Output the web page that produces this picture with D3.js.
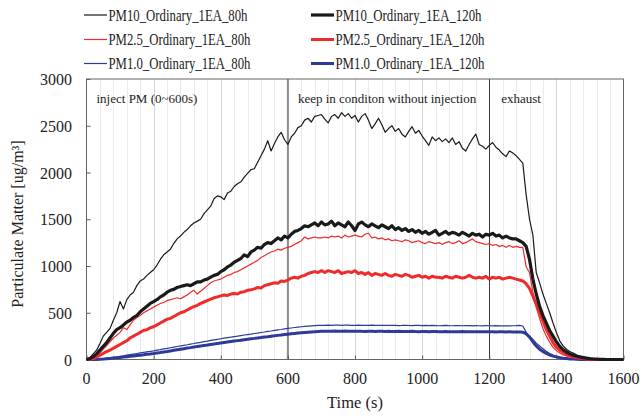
<!DOCTYPE html>
<html>
<head>
<meta charset="utf-8">
<script src="https://cdn.jsdelivr.net/npm/d3@7"></script>
<style>
  body { margin: 0; background: #fff; }
  svg text { font-family: "Liberation Serif", "Times New Roman", serif; fill: #222; }
</style>
</head>
<body>
<div id="chart"></div>
<script>
// sampling times (s)
const time = [
  0,10,20,30,40,50,60,70,80,90,100,110,120,130,140,150,160,170,180,190,
  200,210,220,230,240,250,260,270,280,290,300,310,320,330,340,350,360,370,380,390,
  400,410,420,430,440,450,460,470,480,490,500,510,520,530,540,550,560,570,580,590,
  600,610,620,630,640,650,660,670,680,690,700,710,720,730,740,750,760,770,780,790,
  800,810,820,830,840,850,860,870,880,890,900,910,920,930,940,950,960,970,980,990,
  1000,1010,1020,1030,1040,1050,1060,1070,1080,1090,1100,1110,1120,1130,1140,1150,1160,1170,1180,1190,
  1200,1210,1220,1230,1240,1250,1260,1270,1280,1290,1300,1310,1320,1330,1340,1350,1360,1370,1380,1390,
  1400,1410,1420,1430,1440,1450,1460,1470,1480,1490,1500,1510,1520,1530,1540,1550,1560,1570,1580,1590,
  1600
];

const pm10_80 = [
  0,20,60,100,170,250,290,330,420,500,
  620,540,640,690,720,790,840,860,900,930,
  960,1010,1070,1120,1150,1180,1240,1290,1320,1360,
  1390,1430,1460,1480,1500,1560,1600,1640,1720,1750,
  1740,1710,1780,1800,1850,1880,1900,1950,1990,2030,
  2040,2110,2180,2250,2340,2230,2310,2380,2430,2350,
  2300,2380,2420,2480,2500,2560,2580,2540,2600,2610,
  2620,2570,2530,2600,2620,2580,2640,2600,2630,2580,
  2610,2540,2600,2630,2560,2470,2520,2580,2510,2430,
  2470,2500,2440,2470,2410,2380,2440,2490,2420,2450,
  2390,2340,2290,2380,2340,2370,2330,2360,2320,2370,
  2300,2330,2260,2230,2300,2360,2410,2300,2280,2250,
  2290,2320,2270,2240,2200,2170,2230,2210,2180,2140,
  2100,1760,1500,1330,930,820,700,600,500,390,
  290,200,145,110,85,70,50,35,28,20,
  12,8,5,3,2,1,0,0,0,0,
  0
];

const pm10_120 = [
  0,10,30,60,100,140,180,230,280,320,
  340,370,400,420,450,470,510,540,570,600,
  620,640,670,690,720,740,750,770,780,790,
  800,790,810,830,830,850,860,880,900,910,
  940,960,990,1010,1040,1060,1080,1120,1100,1150,
  1170,1200,1190,1230,1250,1240,1270,1300,1280,1320,
  1300,1340,1370,1380,1400,1430,1420,1440,1460,1430,
  1470,1440,1450,1480,1430,1460,1440,1420,1470,1430,
  1380,1450,1470,1440,1420,1450,1430,1410,1440,1420,
  1400,1430,1390,1410,1380,1400,1370,1390,1360,1380,
  1350,1370,1340,1360,1380,1330,1350,1370,1340,1360,
  1350,1330,1360,1340,1320,1350,1330,1340,1310,1340,
  1330,1350,1320,1330,1300,1320,1300,1290,1290,1270,
  1250,1210,1070,860,700,570,470,390,310,250,
  190,140,105,80,60,45,35,28,20,14,
  9,6,4,2,1,0,0,0,0,0,
  0
];

const pm25_80 = [
  0,5,20,40,70,110,150,190,230,260,
  290,340,320,370,420,450,470,500,520,540,
  560,580,600,610,630,640,650,660,650,670,
  690,720,740,700,730,760,790,820,840,850,
  860,880,900,910,930,940,960,980,1000,1020,
  1040,1060,1090,1110,1130,1150,1160,1180,1170,1190,
  1200,1210,1230,1250,1270,1310,1290,1300,1310,1300,
  1300,1310,1300,1320,1310,1320,1300,1330,1310,1320,
  1330,1320,1310,1340,1350,1300,1310,1290,1300,1280,
  1290,1270,1280,1270,1260,1280,1270,1250,1260,1270,
  1250,1240,1260,1250,1240,1250,1230,1250,1260,1240,
  1250,1270,1240,1250,1270,1290,1260,1250,1240,1230,
  1240,1220,1230,1210,1220,1200,1220,1200,1210,1200,
  1200,990,930,720,560,440,330,250,185,130,
  95,70,50,38,28,20,14,10,6,3,
  1,0,0,0,0,0,0,0,0,0,
  0
];

const pm25_120 = [
  0,3,10,25,45,65,85,100,120,140,
  160,180,200,230,250,270,290,310,320,340,
  350,370,390,410,430,440,460,480,500,510,
  530,550,565,580,600,615,630,645,660,670,
  680,690,685,700,705,700,720,725,740,745,
  755,770,765,790,800,810,820,815,840,835,
  850,870,880,870,890,900,920,930,940,930,
  950,930,950,940,930,950,920,930,940,930,
  950,920,930,910,930,900,920,910,900,920,
  900,890,910,900,890,910,900,880,890,900,
  880,890,870,890,880,880,870,890,880,870,
  890,880,870,880,900,880,870,880,870,890,
  860,880,870,880,860,870,880,870,860,850,
  840,810,760,680,590,500,410,320,250,180,
  130,100,75,55,42,30,22,15,10,6,
  3,1,0,0,0,0,0,0,0,0,
  0
];

const pm1_80 = [
  0,0,1,3,6,10,14,19,24,29,
  35,40,46,52,58,64,70,76,82,87,
  93,100,106,113,119,126,132,139,145,152,
  158,165,171,178,184,191,197,204,210,216,
  222,228,234,239,245,250,256,262,267,272,
  278,283,289,294,300,305,311,316,321,327,
  332,337,342,346,350,354,357,360,362,364,
  365,366,367,366,368,367,366,368,367,365,
  366,368,365,364,366,367,365,366,364,365,
  366,364,365,363,364,366,364,363,365,364,
  363,364,362,364,363,361,363,364,362,361,
  363,362,361,363,362,360,362,361,360,362,
  361,360,362,359,361,360,359,361,362,364,
  358,290,250,215,175,145,115,88,65,48,
  35,25,18,12,8,5,3,2,1,0,
  0,0,0,0,0,0,0,0,0,0,
  0
];

const pm1_120 = [
  0,0,0,1,2,4,8,11,15,18,
  22,26,30,34,38,42,46,50,55,59,
  64,70,75,81,86,92,98,104,110,116,
  122,127,133,138,144,150,155,161,166,172,
  177,182,187,192,197,202,207,212,217,222,
  226,231,235,240,244,249,253,258,262,267,
  271,275,279,283,286,289,292,295,297,299,
  301,302,303,302,304,303,302,304,303,301,
  302,303,301,300,302,301,300,302,301,300,
  301,300,299,301,300,299,300,301,299,298,
  299,300,298,299,300,298,297,299,298,297,
  298,297,299,298,297,296,298,297,296,297,
  296,297,295,296,297,295,296,295,294,293,
  292,275,240,190,145,110,85,65,48,36,
  28,20,14,10,6,4,2,1,0,0,
  0,0,0,0,0,0,0,0,0,0,
  0
];

const seriesNames = [
  "PM10_Ordinary_1EA_80h", "PM10_Ordinary_1EA_120h",
  "PM2.5_Ordinary_1EA_80h", "PM2.5_Ordinary_1EA_120h",
  "PM1.0_Ordinary_1EA_80h", "PM1.0_Ordinary_1EA_120h"
];
const xTicks = [0, 200, 400, 600, 800, 1000, 1200, 1400, 1600];
const yTicks = [0, 500, 1000, 1500, 2000, 2500, 3000];
const phaseLines = [600, 1200];
const phaseLabels = ["inject PM (0~600s)", "keep in conditon without injection", "exhaust"];
const phaseLabelAt = [0, 600, 1200];

const W = 642, H = 419;
const pLeft = 86.5, pRight = 623.5, pTop = 79, pBottom = 359.5;

const svg = d3.select("#chart").append("svg")
  .attr("width", W)
  .attr("height", H);

const x = d3.scaleLinear().domain([0, 1600]).range([pLeft, pRight]);
const y = d3.scaleLinear().domain([0, 3000]).range([pBottom, pTop]);

// grid: light every 40 s, a bit darker every 200 s
svg.append("g").selectAll("line")
  .data(d3.range(40, 1600, 40).filter(d => d % 200 !== 0))
  .enter().append("line")
  .attr("x1", d => Math.round(x(d)) + 0.5).attr("x2", d => Math.round(x(d)) + 0.5)
  .attr("y1", pTop).attr("y2", pBottom)
  .style("stroke", "#ebebeb");

svg.append("g").selectAll("line")
  .data(xTicks.slice(1, -1))
  .enter().append("line")
  .attr("x1", d => Math.round(x(d)) + 0.5).attr("x2", d => Math.round(x(d)) + 0.5)
  .attr("y1", pTop).attr("y2", pBottom)
  .style("stroke", "#d6d6d6");

// phase dividers
svg.append("line")
  .attr("x1", x(phaseLines[0])).attr("x2", x(phaseLines[0]))
  .attr("y1", pTop).attr("y2", pBottom)
  .style("stroke", "#8c8c8c").style("stroke-width", 2);
svg.append("line")
  .attr("x1", Math.round(x(phaseLines[1])) + 0.5).attr("x2", Math.round(x(phaseLines[1])) + 0.5)
  .attr("y1", pTop).attr("y2", pBottom)
  .style("stroke", "#3a3a3a").style("stroke-width", 1);

// axes
const xAxis = d3.axisTop(x).tickValues(xTicks).tickSize(4).tickFormat("");
svg.append("g").attr("transform", "translate(0," + pBottom + ")").call(xAxis)
  .call(g => g.select(".domain").remove())
  .selectAll("line").style("stroke", "#555");

svg.append("g").selectAll("text")
  .data(xTicks)
  .enter().append("text")
  .attr("x", d => x(d))
  .attr("y", 384)
  .attr("text-anchor", "middle")
  .style("font-size", "16px")
  .text(d => d);

const yAxis = d3.axisRight(y).tickValues(yTicks).tickSize(4).tickFormat("");
svg.append("g").attr("transform", "translate(" + pLeft + ",0)").call(yAxis)
  .call(g => g.select(".domain").remove())
  .selectAll("line").style("stroke", "#555");

svg.append("g").selectAll("text")
  .data(yTicks)
  .enter().append("text")
  .attr("x", 72)
  .attr("y", d => y(d) + 6)
  .attr("text-anchor", "end")
  .style("font-size", "16px")
  .text(d => d);

// frame
svg.append("rect")
  .attr("x", pLeft).attr("y", pTop)
  .attr("width", pRight - pLeft).attr("height", pBottom - pTop)
  .style("fill", "none").style("stroke", "#666");

// phase labels
const labelOffset = [10, 10, 12];
svg.append("g").selectAll("text")
  .data(phaseLabels)
  .enter().append("text")
  .attr("x", (d, i) => x(phaseLabelAt[i]) + labelOffset[i])
  .attr("y", 102.5)
  .style("font-size", "13px")
  .text(d => d);

// series
const series = [
  { name: seriesNames[5], values: pm1_120, color: "#2c3a9a", width: 3 },
  { name: seriesNames[4], values: pm1_80, color: "#2c3a9a", width: 1.2 },
  { name: seriesNames[3], values: pm25_120, color: "#ef2b2b", width: 3 },
  { name: seriesNames[2], values: pm25_80, color: "#ef2b2b", width: 1.2 },
  { name: seriesNames[1], values: pm10_120, color: "#1a1a1a", width: 3.2 },
  { name: seriesNames[0], values: pm10_80, color: "#1a1a1a", width: 1.2 }
];

const line = d3.line()
  .x((d, i) => x(time[i]))
  .y(d => y(d));

svg.append("g").selectAll("path")
  .data(series)
  .enter().append("path")
  .attr("d", s => line(s.values))
  .style("fill", "none")
  .style("stroke", s => s.color)
  .style("stroke-width", s => s.width)
  .style("stroke-linejoin", "round");

// legend: 80h left column, 120h right column (text is drawn a little condensed)
const legend = svg.append("g").selectAll("g")
  .data(seriesNames)
  .enter().append("g")
  .attr("transform", (d, i) => "translate(" + (i % 2 === 0 ? 84 : 311) + "," + [15, 39.5, 63.5][Math.floor(i / 2)] + ")");

legend.append("line")
  .attr("x1", 0).attr("x2", 23)
  .style("stroke", d => series.find(s => s.name === d).color)
  .style("stroke-width", d => series.find(s => s.name === d).width);

legend.append("text")
  .attr("x", 24.5)
  .attr("y", 5.5)
  .style("font-size", "16px")
  .attr("textLength", (d, i) => (i % 2 === 0 ? 139 : 146) + (i > 1 ? 3 : 0))
  .attr("lengthAdjust", "spacingAndGlyphs")
  .text(d => d);

// axis titles
svg.append("text")
  .attr("x", (pLeft + pRight) / 2)
  .attr("y", 408)
  .attr("text-anchor", "middle")
  .style("font-size", "16.5px")
  .text("Time (s)");

svg.append("text")
  .attr("transform", "translate(22.5,224) rotate(-90)")
  .attr("text-anchor", "middle")
  .style("font-size", "16px")
  .text("Particulate Matter [ug/m³]");
</script>
</body>
</html>
